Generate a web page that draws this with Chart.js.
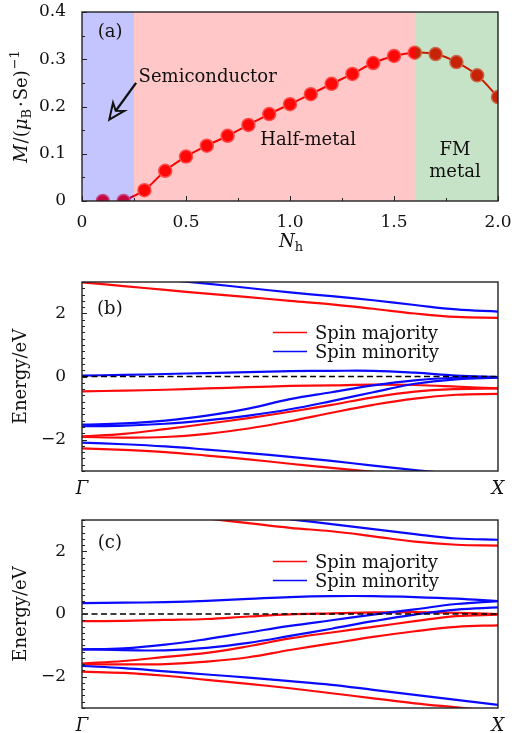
<!DOCTYPE html>
<html>
<head>
<meta charset="utf-8">
<script src="https://cdn.jsdelivr.net/npm/chart.js@4.4.0/dist/chart.umd.min.js"></script>
<style>
  body { margin: 0; background: #fff; width: 519px; height: 733px; position: relative; overflow: hidden; }
  canvas { position: absolute; left: 0; }
</style>
</head>
<body>
<canvas id="moment-chart" width="519" height="262" style="top:0"></canvas>
<canvas id="band-b" width="519" height="238" style="top:262px"></canvas>
<canvas id="band-c" width="519" height="233" style="top:500px"></canvas>
<script>
const SERIF = "'DejaVu Serif', serif";
const INK = "#111";

// (a) magnetic moment vs hole doping
const nh = [0.1, 0.2, 0.3, 0.4, 0.5, 0.6, 0.7, 0.8, 0.9, 1.0,
            1.1, 1.2, 1.3, 1.4, 1.5, 1.6, 1.7, 1.8, 1.9, 2.0];
const moment = [0, 0, 0.023, 0.064, 0.094, 0.117, 0.138, 0.161, 0.184, 0.205,
                0.226, 0.248, 0.269, 0.292, 0.307, 0.314, 0.311, 0.294, 0.266, 0.220];
const phaseBounds = [0, 0.25, 1.6, 2.0];
const phaseColors = ["rgba(0,0,255,0.23)", "rgba(255,0,0,0.22)", "rgba(0,128,0,0.22)"];

// band structures along Γ–X
const kPath = [0, 0.1, 0.2, 0.3, 0.4, 0.5, 0.6, 0.7, 0.8, 0.9, 1.0];
const kLabels = ["Γ", "X"];
const spinLabels = ["Spin majority", "Spin minority"];

const majorityB = [
  [2.99, 2.87, 2.75, 2.63, 2.52, 2.40, 2.29, 2.15, 2.00, 1.89, 1.86],
  [-0.47, -0.45, -0.42, -0.38, -0.34, -0.30, -0.28, -0.26, -0.27, -0.32, -0.38],
  [-1.90, -1.82, -1.67, -1.50, -1.32, -1.12, -0.90, -0.66, -0.48, -0.40, -0.38],
  [-1.92, -1.94, -1.92, -1.82, -1.65, -1.42, -1.15, -0.90, -0.70, -0.58, -0.55],
  [-2.28, -2.33, -2.40, -2.51, -2.63, -2.77, -2.90, -3.03, -3.15, null, null],
];
const minorityB = [
  [null, null, 3.07, 2.95, 2.81, 2.67, 2.55, 2.42, 2.27, 2.13, 2.06],
  [0.03, 0.05, 0.08, 0.11, 0.14, 0.17, 0.18, 0.18, 0.12, 0.03, -0.02],
  [-1.53, -1.49, -1.40, -1.24, -1.02, -0.72, -0.50, -0.28, -0.12, -0.04, -0.02],
  [-1.58, -1.56, -1.50, -1.39, -1.24, -1.04, -0.78, -0.50, -0.23, -0.09, -0.04],
  [-2.10, -2.15, -2.22, -2.32, -2.43, -2.55, -2.68, -2.83, -2.97, -3.10, null],
];

const majorityC = [
  [null, null, null, 3.05, 2.90, 2.75, 2.64, 2.48, 2.31, 2.21, 2.18],
  [-0.23, -0.22, -0.19, -0.16, -0.08, -0.01, 0.02, 0.05, 0.06, 0.04, 0.0],
  [-1.58, -1.50, -1.37, -1.24, -1.03, -0.78, -0.59, -0.41, -0.23, -0.07, -0.02],
  [-1.61, -1.61, -1.60, -1.52, -1.38, -1.15, -0.94, -0.73, -0.55, -0.41, -0.36],
  [-1.84, -1.88, -1.97, -2.10, -2.23, -2.37, -2.53, -2.69, -2.85, -2.98, -3.11],
];
const minorityC = [
  [null, null, null, null, null, 3.02, 2.87, 2.71, 2.55, 2.41, 2.37],
  [0.35, 0.36, 0.38, 0.42, 0.48, 0.54, 0.57, 0.57, 0.54, 0.49, 0.41],
  [-1.13, -1.10, -0.98, -0.80, -0.59, -0.38, -0.20, -0.02, 0.15, 0.32, 0.41],
  [-1.13, -1.15, -1.16, -1.08, -0.92, -0.70, -0.47, -0.23, -0.02, 0.14, 0.21],
  [-1.66, -1.73, -1.83, -1.93, -2.03, -2.14, -2.26, -2.42, -2.58, -2.74, -2.90],
];

Chart.defaults.font.family = SERIF;
Chart.defaults.font.size = 17;
Chart.defaults.color = INK;

function isMultiple(v, step) {
  return Math.abs(v / step - Math.round(v / step)) < 1e-6;
}

// draws a run of differently styled text pieces centred on (x, y)
function richText(ctx, parts, x, y, rotate) {
  ctx.save();
  ctx.translate(x, y);
  if (rotate) ctx.rotate(-Math.PI / 2);
  ctx.fillStyle = INK;
  ctx.textBaseline = "alphabetic";
  ctx.textAlign = "left";
  const width = (p) => {
    ctx.font = p.font;
    return ctx.measureText(p.text).width + (p.gap || 0);
  };
  const total = parts.reduce((s, p) => s + width(p), 0);
  let cx = -total / 2;
  parts.forEach((p) => {
    const w = width(p);
    ctx.fillText(p.text, cx, p.shift || 0);
    cx += w;
  });
  ctx.restore();
}

// inward ticks + box frame
const frameTicks = {
  id: "frameTicks",
  afterDraw(chart, args, opts) {
    const { ctx, chartArea: a } = chart;
    ctx.save();
    ctx.strokeStyle = "#222";
    ctx.lineWidth = 1;
    if (opts.x) {
      const sx = chart.scales.x;
      sx.ticks.forEach((t) => {
        const px = Math.round(sx.getPixelForValue(t.value)) + 0.5;
        const len = t.label ? 5 : 3;
        ctx.beginPath();
        ctx.moveTo(px, a.bottom);
        ctx.lineTo(px, a.bottom - len);
        ctx.stroke();
      });
    }
    const sy = chart.scales.y;
    sy.ticks.forEach((t) => {
      const py = Math.round(sy.getPixelForValue(t.value)) + 0.5;
      const len = t.label ? 5 : 3;
      ctx.beginPath();
      ctx.moveTo(a.left, py);
      ctx.lineTo(a.left + len, py);
      ctx.stroke();
    });
    ctx.lineWidth = 1.4;
    ctx.strokeRect(a.left, a.top, a.right - a.left, a.bottom - a.top);
    ctx.restore();
  },
};

// translucent phase regions laid over the curve
const phaseShading = {
  id: "phaseShading",
  afterDatasetsDraw(chart) {
    const { ctx, chartArea: a, scales } = chart;
    ctx.save();
    for (let i = 0; i < phaseColors.length; i++) {
      const x0 = scales.x.getPixelForValue(phaseBounds[i]);
      const x1 = scales.x.getPixelForValue(phaseBounds[i + 1]);
      ctx.fillStyle = phaseColors[i];
      ctx.fillRect(x0, a.top, x1 - x0, a.bottom - a.top);
    }
    ctx.restore();
  },
};

const momentNotes = {
  id: "momentNotes",
  afterDraw(chart) {
    const { ctx, scales, chartArea: a } = chart;
    const X = (v) => scales.x.getPixelForValue(v);
    const Y = (v) => scales.y.getPixelForValue(v);
    ctx.save();
    ctx.fillStyle = INK;
    ctx.font = "18px " + SERIF;
    ctx.textBaseline = "middle";
    ctx.textAlign = "center";
    ctx.fillText("(a)", X(0.135), Y(0.356));
    ctx.fillText("Half-metal", X(1.087), Y(0.129));
    ctx.fillText("FM", X(1.793), Y(0.108));
    ctx.fillText("metal", X(1.793), Y(0.061));
    ctx.textAlign = "left";
    ctx.fillText("Semiconductor", X(0.272), Y(0.262));

    // arrow pointing into the semiconducting window
    const tx = X(0.26), ty = Y(0.25), hx = X(0.131), hy = Y(0.172);
    const ang = Math.atan2(hy - ty, hx - tx);
    const headLen = 16, headW = 7;
    const bx = hx - headLen * Math.cos(ang), by = hy - headLen * Math.sin(ang);
    ctx.strokeStyle = INK;
    ctx.lineWidth = 2.4;
    ctx.beginPath();
    ctx.moveTo(tx, ty);
    ctx.lineTo(bx + 5 * Math.cos(ang), by + 5 * Math.sin(ang));
    ctx.stroke();
    ctx.lineWidth = 2;
    ctx.lineJoin = "miter";
    ctx.beginPath();
    ctx.moveTo(hx, hy);
    ctx.lineTo(bx + headW * Math.sin(ang), by - headW * Math.cos(ang));
    ctx.lineTo(bx + 5 * Math.cos(ang), by + 5 * Math.sin(ang));
    ctx.lineTo(bx - headW * Math.sin(ang), by + headW * Math.cos(ang));
    ctx.closePath();
    ctx.stroke();

    richText(ctx, [
      { text: "M", font: "italic 18px " + SERIF, gap: 1 },
      { text: "/(", font: "18px " + SERIF },
      { text: "μ", font: "italic 18px " + SERIF },
      { text: "B", font: "13px " + SERIF, shift: 4, gap: 2 },
      { text: "·", font: "18px " + SERIF, gap: 1 },
      { text: "Se)", font: "18px " + SERIF, gap: 1 },
      { text: "−1", font: "13px " + SERIF, shift: -8 },
    ], 27, (a.top + a.bottom) / 2, true);
    richText(ctx, [
      { text: "N", font: "italic 18px " + SERIF },
      { text: "h", font: "13px " + SERIF, shift: 4 },
    ], 291, 247, false);
    ctx.restore();
  },
};

// panel tag, legend and axis title for the band plots
const bandNotes = {
  id: "bandNotes",
  afterDraw(chart, args, opts) {
    const { ctx, chartArea: a, scales } = chart;
    const X = (v) => scales.x.getPixelForValue(v);
    const Y = (v) => scales.y.getPixelForValue(v);
    ctx.save();
    ctx.fillStyle = INK;
    ctx.font = "18px " + SERIF;
    ctx.textBaseline = "middle";
    ctx.textAlign = "center";
    ctx.fillText(opts.tag, X(0.067), Y(opts.tagY));

    spinLabels.forEach((label, i) => {
      const ds = chart.data.datasets.find((d) => d.label === label);
      const ly = Math.round(Y(opts.legendY) + i * opts.legendGap) + 0.5;
      ctx.strokeStyle = ds.borderColor;
      ctx.lineWidth = 1.6;
      ctx.beginPath();
      ctx.moveTo(X(0.459), ly);
      ctx.lineTo(X(0.541), ly);
      ctx.stroke();
      ctx.textAlign = "left";
      ctx.textBaseline = "alphabetic";
      ctx.font = "18px " + SERIF;
      ctx.fillText(ds.label, X(0.56), ly + 6);
    });

    richText(ctx, [{ text: "Energy/eV", font: "18px " + SERIF }],
      26, (a.top + a.bottom) / 2, true);
    ctx.restore();
  },
};

const fixY = (s) => { s.width = 82; s.paddingTop = 0; s.paddingBottom = 0; };
const fixX = (h) => (s) => { s.height = h; s.paddingLeft = 0; s.paddingRight = 0; };

new Chart(document.getElementById("moment-chart"), {
  type: "scatter",
  data: {
    datasets: [
      {
        label: "M",
        data: nh.map((x, i) => ({ x, y: moment[i] })),
        showLine: false,
        pointRadius: 6.5,
        pointBackgroundColor: "#ff0a0a",
        pointBorderColor: "rgba(255,95,95,0.95)",
        pointBorderWidth: 1.5,
      },
      {
        label: "M curve",
        data: nh.slice(1).map((x, i) => ({ x, y: moment[i + 1] })),
        showLine: true,
        borderColor: "#ff0000",
        borderWidth: 2,
        pointRadius: 0,
        tension: 0.3,
      },
    ],
  },
  options: {
    responsive: false,
    animation: false,
    events: [],
    layout: { padding: { top: 12, right: 21, left: 0, bottom: 0 } },
    scales: {
      x: {
        type: "linear",
        min: 0,
        max: 2,
        grid: { display: false },
        border: { display: false },
        afterFit: fixX(61),
        ticks: {
          stepSize: 0.25,
          autoSkip: false,
          maxRotation: 0,
          padding: 3,
          callback: (v) => (isMultiple(v, 0.5) ? (v === 0 ? "0" : v.toFixed(1)) : ""),
        },
      },
      y: {
        min: 0,
        max: 0.4,
        grid: { display: false },
        border: { display: false },
        afterFit: fixY,
        ticks: {
          stepSize: 0.05,
          autoSkip: false,
          padding: 8,
          callback: (v) => (isMultiple(v, 0.1) ? (v === 0 ? "0" : v.toFixed(1)) : ""),
        },
      },
    },
    plugins: {
      legend: { display: false },
      tooltip: { enabled: false },
      frameTicks: { x: true },
    },
  },
  plugins: [phaseShading, frameTicks, momentNotes],
});

function bandDatasets(bands, label, color) {
  return bands.map((band) => ({
    label: label,
    data: kPath.map((k, i) => ({ x: k, y: band[i] })),
    borderColor: color,
    borderWidth: 2.2,
    pointRadius: 0,
    tension: 0.4,
    spanGaps: false,
  }));
}

function createBandChart(id, majority, minority, notes, topPad, axisHeight) {
  const datasets = [
    {
      label: "E_F",
      data: [{ x: 0, y: 0 }, { x: 1, y: 0 }],
      borderColor: "#000",
      borderWidth: 1.6,
      borderDash: [6, 3.5],
      pointRadius: 0,
    },
  ]
    .concat(bandDatasets(minority, spinLabels[1], "#0a0aff"))
    .concat(bandDatasets(majority, spinLabels[0], "#ff0a0a"));

  new Chart(document.getElementById(id), {
    type: "line",
    data: { datasets },
    options: {
      responsive: false,
      animation: false,
      events: [],
      layout: { padding: { top: topPad, right: 21, left: 0, bottom: 0 } },
      scales: {
        x: {
          type: "linear",
          min: 0,
          max: 1,
          grid: { display: false },
          border: { display: false },
          afterFit: fixX(axisHeight),
          ticks: {
            stepSize: 1,
            autoSkip: false,
            maxRotation: 0,
            padding: 0,
            font: { size: 18, style: "italic" },
            callback: (v) => kLabels[Math.round(v)],
          },
        },
        y: {
          min: -3,
          max: 3,
          grid: { display: false },
          border: { display: false },
          afterFit: fixY,
          ticks: {
            stepSize: 0.2,
            autoSkip: false,
            padding: 8,
            callback: (v) => {
              if (!isMultiple(v, 2)) return "";
              const r = Math.round(v);
              return r < 0 ? "−" + Math.abs(r) : String(r);
            },
          },
        },
      },
      plugins: {
        legend: { display: false },
        tooltip: { enabled: false },
        frameTicks: { x: false },
        bandNotes: notes,
      },
    },
    plugins: [frameTicks, bandNotes],
  });
}

createBandChart("band-b", majorityB, minorityB,
  { tag: "(b)", tagY: 2.14, legendY: 1.41, legendGap: 18.5 }, 20, 29);
createBandChart("band-c", majorityC, minorityC,
  { tag: "(c)", tagY: 2.25, legendY: 1.69, legendGap: 18.6 }, 20, 25);
</script>
</body>
</html>
